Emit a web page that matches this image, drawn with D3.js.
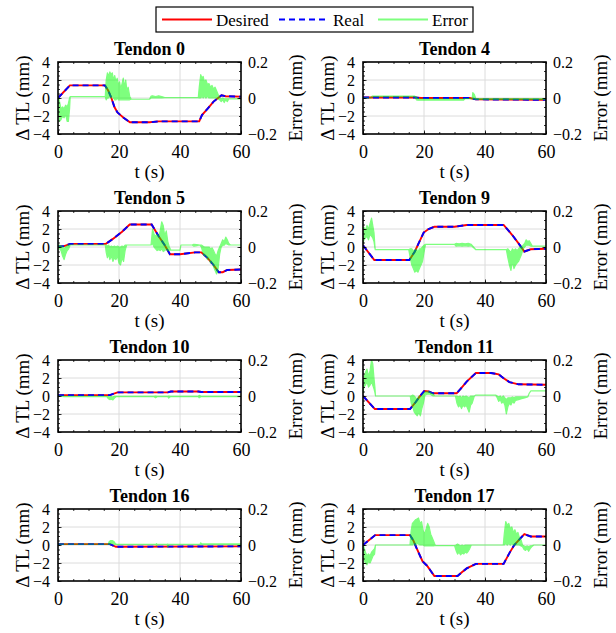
<!DOCTYPE html>
<html>
<head>
<meta charset="utf-8">
<script src="https://cdn.jsdelivr.net/npm/d3@7"></script>
<style>
  body { margin: 0; background: #fff; }
  svg, svg text { font-family: "Liberation Serif", serif; }
</style>
</head>
<body>
<svg id="chart" width="616" height="633" font-family="Liberation Serif"></svg>
<script>
// desired tendon length change [t (s), dTL (mm)]; real tracks it visually exactly
const desired0 = [[0,0],[3.9,1.4],[15.4,1.4],[16.5,0.8],[17.5,0],[18.5,-1.0],[19.5,-1.6],[20.5,-1.9],[21.5,-2.2],[23.6,-2.7],[30,-2.7],[33,-2.6],[46.3,-2.6],[47.2,-1.9],[49,-1.2],[51,-0.4],[53.6,0.3],[55,0.2],[60,0.15]];
const desired4 = [[0,0.05],[17,0.05],[19,0],[35,0],[37,-0.15],[60,-0.2]];
const desired5 = [[0,0.05],[2,0.1],[4,0.35],[15.7,0.35],[18,0.9],[21,1.7],[23.5,2.5],[30.7,2.5],[33,1.2],[35,0.2],[36.7,-0.8],[40,-0.8],[45,-0.6],[47,-0.6],[49,-1.2],[51,-2.0],[52.7,-2.8],[54,-2.8],[55.5,-2.55],[60,-2.5]];
const desired9 = [[0,0.2],[3.7,-1.45],[15.2,-1.45],[17,-0.5],[18.5,0.6],[19.9,1.6],[21.5,2.0],[23.4,2.25],[30,2.25],[34,2.45],[46.1,2.45],[47.5,1.9],[49,1.3],[51,0.4],[52.9,-0.5],[55,-0.25],[60,-0.2]];
const desired10 = [[0,0.1],[17,0.1],[19.5,0.4],[36,0.4],[37,0.5],[46,0.5],[47,0.45],[60,0.45]];
const desired11 = [[0,0],[3.9,-1.45],[15.4,-1.45],[17,-0.8],[18.5,-0.1],[20.1,0.55],[21.5,0.5],[23,0.3],[30.7,0.3],[32,0.8],[34,1.6],[37,2.55],[42,2.55],[44.5,2.4],[46,2.0],[48,1.55],[51,1.3],[60,1.25]];
const desired16 = [[0,0.1],[17,0.1],[19,-0.2],[60,-0.15]];
const desired17 = [[0,0],[4,1.1],[15.4,1.1],[16.5,0.5],[17.5,-0.3],[19.5,-1.8],[21,-2.3],[23.4,-3.45],[31,-3.45],[32.5,-3.0],[34,-2.6],[37,-2.1],[46.1,-2.1],[48,-0.9],[49.6,0],[51.5,0.7],[52.9,1.2],[55,0.95],[60,0.95]];

// tracking error envelope [t (s), min (mm), max (mm)]
const error0 = [[0,0,0],[0.2,-0.06,0],[0.5,-0.13,-0.02],[1,-0.12,-0.06],[1.5,-0.1,-0.05],[2,-0.11,-0.06],[2.5,-0.09,-0.04],[3,-0.13,-0.05],[3.4,-0.13,-0.03],[3.8,-0.06,0],[4,0.008,0.008],[15.5,0.008,0.008],[15.8,-0.01,0.1],[16.2,0,0.14],[16.6,0,0.12],[17,0.01,0.145],[17.4,0,0.13],[17.8,0.01,0.14],[18.2,0,0.1],[18.6,-0.01,0.125],[19,-0.01,0.09],[19.4,0,0.11],[19.8,-0.01,0.07],[20.2,-0.01,0.09],[20.6,-0.01,0.05],[21,-0.01,0.08],[21.4,-0.01,0.11],[21.8,-0.01,0.06],[22.2,-0.01,0.1],[22.6,-0.01,0.04],[23,-0.01,0.06],[23.5,-0.01,0.01],[24,-0.007,-0.007],[30,-0.007,-0.007],[30.5,0,0.01],[31,0.002,0.012],[32,0,0.008],[33,0.002,0.012],[34,0,0.008],[35,0.002,0.002],[46,0.002,0.002],[46.3,0,0.06],[46.8,0,0.13],[47.2,0.01,0.11],[47.6,0,0.12],[48,0.01,0.09],[48.5,0,0.1],[49,0.01,0.075],[49.5,0,0.08],[50,0,0.06],[50.5,0,0.07],[51,0,0.05],[51.5,0,0.06],[52,0,0.04],[52.5,-0.005,0.02],[53,-0.01,0],[53.5,-0.02,-0.005],[54,-0.01,0],[54.5,-0.025,-0.005],[55,-0.01,-0.005],[55.5,-0.02,-0.005],[56,-0.005,-0.005],[60,-0.005,-0.005]];
const error4 = [[0,0,0],[2.5,0,0],[3,0.008,0.01],[17,0.008,0.01],[17.5,-0.01,0.005],[18,-0.012,-0.006],[33,-0.012,-0.006],[33.5,-0.003,-0.003],[35.8,-0.003,-0.003],[36,-0.005,0.03],[36.5,-0.005,0.02],[37,-0.008,-0.004],[60,-0.008,-0.004]];
const error5 = [[0,0,0],[0.5,-0.01,0.01],[1,-0.02,0.005],[1.5,-0.05,0],[2,-0.07,-0.01],[2.5,-0.04,0],[3,-0.02,0.005],[3.5,-0.01,0.01],[4,0.011,0.011],[15.5,0.011,0.011],[15.8,-0.03,0.01],[16.2,-0.06,0.005],[16.6,-0.04,0.01],[17,-0.07,0],[17.5,-0.05,0.005],[18,-0.08,0],[18.5,-0.06,0.005],[19,-0.07,0],[19.5,-0.05,0.005],[20,-0.09,0],[20.5,-0.1,0],[21,-0.06,0.005],[21.5,-0.08,0],[22,-0.02,0.01],[22.5,0.011,0.011],[30.5,0.011,0.011],[31,0.02,0.1],[31.5,0,0.07],[32,-0.01,0.06],[32.5,-0.02,0.07],[33,-0.015,0.05],[33.5,-0.02,0.09],[34,-0.01,0.14],[34.5,-0.025,0.12],[35,-0.02,0.06],[35.5,-0.01,0.09],[36,-0.02,0.03],[36.5,-0.017,0],[37,-0.017,-0.017],[40,-0.017,-0.017],[40.3,0.011,0.011],[44,0.011,0.011],[44.5,0.005,0.015],[45.5,0.008,0.013],[46.5,0.011,0.011],[47,0,0.011],[47.5,-0.03,0.005],[48,-0.05,0],[48.5,-0.04,0],[49,-0.07,0],[49.5,-0.06,0],[50,-0.09,-0.01],[50.5,-0.08,-0.005],[51,-0.11,-0.02],[51.5,-0.13,-0.04],[52,-0.15,-0.05],[52.5,-0.12,-0.02],[53,-0.04,0],[53.5,0,0.02],[54,0.01,0.04],[54.5,0.01,0.03],[55,0.02,0.055],[55.5,0.015,0.04],[56,0.011,0.02],[56.5,0.011,0.011],[60,0.011,0.011]];
const error9 = [[0,0.02,0.05],[0.3,0.04,0.11],[0.8,0.05,0.09],[1.3,0.06,0.12],[1.8,0.04,0.1],[2.3,0.07,0.13],[2.8,0.06,0.16],[3.2,0.05,0.12],[3.6,0.03,0.08],[4,-0.015,-0.015],[15,-0.015,-0.015],[15.5,-0.06,-0.01],[16,-0.1,-0.01],[16.5,-0.12,-0.02],[17,-0.14,-0.02],[17.5,-0.13,-0.01],[18,-0.14,-0.03],[18.5,-0.12,-0.01],[19,-0.1,-0.01],[19.5,-0.08,0],[20,-0.03,0.01],[20.5,0.015,0.015],[30,0.015,0.015],[30.5,0.005,0.02],[31.5,0.008,0.018],[32.5,0.005,0.02],[33.5,0.008,0.018],[34.5,0.005,0.02],[35.5,0.008,0.015],[37,-0.015,-0.015],[47,-0.015,-0.015],[47.5,-0.06,-0.01],[48,-0.1,-0.02],[48.5,-0.13,-0.03],[49,-0.08,-0.01],[49.5,-0.12,-0.02],[50,-0.1,-0.01],[50.5,-0.09,-0.02],[51,-0.08,-0.01],[51.5,-0.06,0],[52,-0.04,0],[52.5,-0.01,0.01],[53,0,0.02],[53.5,0.01,0.04],[54,0.01,0.03],[54.5,0.01,0.035],[55,0.005,0.02],[55.5,0.005,0.005],[60,0.005,0.005]];
const error10 = [[0,0,0],[2,-0.004,-0.002],[16,-0.004,-0.002],[16.5,-0.015,-0.003],[17,-0.02,-0.005],[17.5,-0.018,-0.004],[18,-0.022,-0.006],[18.5,-0.012,-0.002],[19,-0.004,-0.002],[31.5,-0.004,-0.002],[32,-0.01,0],[32.5,-0.004,-0.002],[36,-0.004,-0.002],[36.3,-0.012,0],[36.8,-0.004,-0.002],[46,-0.004,-0.002],[46.3,-0.01,0.004],[46.8,-0.004,-0.002],[60,-0.004,-0.002]];
const error11 = [[0,0.02,0.06],[0.3,0.05,0.1],[0.8,0.06,0.13],[1.3,0.08,0.15],[1.8,0.05,0.11],[2.3,0.06,0.14],[2.8,0.08,0.2],[3.2,0.06,0.18],[3.6,0.04,0.1],[3.9,0.02,0.05],[4.1,0,0],[15.5,0,0],[15.8,-0.04,0],[16.3,-0.06,0.005],[16.8,-0.09,0],[17.3,-0.1,-0.01],[17.8,-0.11,-0.02],[18.3,-0.09,0],[18.8,-0.11,-0.01],[19.3,-0.07,0],[19.8,-0.04,0.01],[20.3,0.005,0.02],[21,0.01,0.025],[22,0.01,0.02],[23,0,0.01],[23.5,0,0],[30.3,0,0],[30.8,-0.04,0],[31.3,-0.06,-0.005],[31.8,-0.05,0],[32.3,-0.07,-0.01],[32.8,-0.05,0],[33.3,-0.06,-0.005],[33.8,-0.05,0],[34.3,-0.07,-0.005],[34.8,-0.09,-0.01],[35.3,-0.05,0],[35.8,-0.04,0],[36.5,0,0],[37,0.005,0.005],[43.5,0.005,0.005],[44,-0.01,0],[44.5,-0.03,-0.005],[45,-0.02,0],[45.5,-0.04,-0.01],[46,-0.03,0],[46.5,-0.05,-0.01],[47,-0.1,-0.02],[47.5,-0.06,-0.01],[48,-0.04,-0.01],[48.5,-0.05,-0.01],[49,-0.03,-0.005],[49.5,-0.04,-0.01],[50,-0.025,-0.005],[51,-0.02,-0.005],[52,-0.015,-0.005],[53,-0.01,-0.005],[54,-0.005,-0.005],[54.5,0.015,0.015],[55,0.028,0.028],[60,0.028,0.028]];
const error16 = [[0,0.005,0.005],[16.5,0.005,0.005],[16.8,0.005,0.02],[17.3,0.008,0.025],[17.8,0.01,0.025],[18.3,0.005,0.02],[18.8,0.003,0.008],[19.3,0.003,0.003],[32,0.003,0.003],[32.3,-0.003,0.008],[32.6,0.003,0.003],[35.8,0.003,0.003],[36,-0.01,0.005],[36.4,0.003,0.003],[46.5,0.003,0.003],[46.8,0.003,0.012],[47.2,0.003,0.006],[60,0.003,0.006]];
const error17 = [[0,0,0],[0.3,-0.08,-0.01],[0.8,-0.1,-0.04],[1.3,-0.11,-0.06],[1.8,-0.09,-0.05],[2.3,-0.1,-0.06],[2.8,-0.08,-0.04],[3.3,-0.06,-0.03],[3.8,-0.05,-0.02],[4.1,0,0],[15.4,0,0],[15.8,0,0.08],[16.2,0,0.12],[16.7,0.01,0.13],[17.2,0,0.14],[17.7,0.01,0.145],[18.2,0.005,0.15],[18.7,0,0.12],[19.2,0,0.13],[19.7,0,0.08],[20.2,-0.005,0.06],[20.7,-0.005,0.09],[21.2,-0.005,0.12],[21.7,-0.005,0.1],[22.2,-0.005,0.06],[22.7,-0.005,0.04],[23.2,-0.005,0.02],[23.7,-0.003,-0.003],[30,-0.003,-0.003],[30.5,-0.03,0],[31,-0.05,0.005],[31.5,-0.04,0],[32,-0.055,-0.005],[32.5,-0.045,0],[33,-0.05,-0.005],[33.5,-0.04,0],[34,-0.045,0],[34.5,-0.035,0],[35,-0.02,0],[35.5,0,0],[46,0,0],[46.3,0,0.06],[46.8,0.01,0.13],[47.3,0,0.11],[47.8,0.01,0.12],[48.3,0,0.09],[48.8,0.01,0.1],[49.3,0,0.07],[49.8,0,0.085],[50.3,0,0.06],[50.8,0,0.07],[51.3,0,0.04],[51.8,-0.005,0.03],[52.3,-0.01,0],[52.8,-0.025,-0.005],[53.3,-0.03,-0.01],[53.8,-0.02,-0.005],[54.3,-0.035,-0.01],[54.8,-0.02,-0.005],[55.3,-0.01,-0.005],[56,0,0],[60,0,0]];

const titles = ["Tendon 0", "Tendon 4", "Tendon 5", "Tendon 9", "Tendon 10", "Tendon 11", "Tendon 16", "Tendon 17"];
const desiredSeries = [desired0, desired4, desired5, desired9, desired10, desired11, desired16, desired17];
const errorSeries = [error0, error4, error5, error9, error10, error11, error16, error17];

const tTicks = [0, 20, 40, 60];
const tlTicks = [-4, -2, 0, 2, 4];
const errTicks = [-0.2, 0, 0.2];
const legendLabels = ["Desired", "Real", "Error"];

const panels = titles.map((title, i) => ({
  title,
  desired: desiredSeries[i],
  real: desiredSeries[i],
  error: errorSeries[i],
}));

const FONT = "Liberation Serif";
const colLeft = [58, 363];
const rowTop = [62, 211, 360, 509];
const plotW = 183;
const plotH = 72;

const x = d3.scaleLinear().domain([0, 60]).range([0, plotW]);
const yTL = d3.scaleLinear().domain([-4, 4]).range([plotH, 0]);
const yErr = d3.scaleLinear().domain([-0.2, 0.2]).range([plotH, 0]);

const tlLine = d3.line().x((d) => x(d[0])).y((d) => yTL(d[1]));
const errArea = d3.area().x((d) => x(d[0])).y0((d) => yErr(d[1])).y1((d) => yErr(d[2]));

const svg = d3.select("#chart");
const defs = svg.append("defs");
defs.append("clipPath").attr("id", "plot-clip")
  .append("rect").attr("width", plotW).attr("height", plotH);

function styleAxis(g, size) {
  g.attr("font-family", FONT).attr("font-size", size);
  g.select(".domain").remove();
  g.selectAll(".tick line").attr("stroke", "#000").attr("stroke-width", 0.8);
  g.selectAll(".tick text").attr("fill", "#000").attr("font-family", FONT);
}

panels.forEach((p, i) => {
  const x0 = colLeft[i % 2];
  const y0 = rowTop[Math.floor(i / 2)];
  const g = svg.append("g").attr("transform", `translate(${x0},${y0})`);

  // grid
  g.append("g").selectAll("line").data(tTicks.slice(1, -1)).join("line")
    .attr("x1", (d) => x(d)).attr("x2", (d) => x(d))
    .attr("y1", 0).attr("y2", plotH)
    .attr("stroke", "#dcdcdc").attr("stroke-width", 1);
  g.append("g").selectAll("line").data(tlTicks.slice(1, -1)).join("line")
    .attr("y1", (d) => yTL(d)).attr("y2", (d) => yTL(d))
    .attr("x1", 0).attr("x2", plotW)
    .attr("stroke", "#dcdcdc").attr("stroke-width", 1);

  const plot = g.append("g").attr("clip-path", "url(#plot-clip)");
  plot.append("path").datum(p.desired)
    .attr("d", tlLine).attr("fill", "none")
    .attr("stroke", "#ff0000").attr("stroke-width", 1.9);
  plot.append("path").datum(p.real)
    .attr("d", tlLine).attr("fill", "none")
    .attr("stroke", "#0000ff").attr("stroke-width", 1.9)
    .attr("stroke-dasharray", "6,4");
  plot.append("path").datum(p.error)
    .attr("d", errArea)
    .attr("fill", "#00ff00").attr("stroke", "#00ff00")
    .attr("stroke-width", 1.2).attr("stroke-linejoin", "round")
    .attr("opacity", 0.5);

  // minor ticks
  g.append("g").call(d3.axisLeft(yTL).tickValues(d3.range(-4, 4.01, 0.5)).tickSize(-2).tickFormat(""))
    .call((a) => styleAxis(a, 0));
  g.append("g").attr("transform", `translate(${plotW},0)`)
    .call(d3.axisRight(yErr).tickValues(d3.range(-0.2, 0.201, 0.05)).tickSize(-2).tickFormat(""))
    .call((a) => styleAxis(a, 0));
  g.append("g").attr("transform", `translate(0,${plotH})`)
    .call(d3.axisBottom(x).tickValues(d3.range(0, 61, 5)).tickSize(-2).tickFormat(""))
    .call((a) => styleAxis(a, 0));
  g.append("g")
    .call(d3.axisTop(x).tickValues(d3.range(0, 61, 5)).tickSize(-2).tickFormat(""))
    .call((a) => styleAxis(a, 0));

  // major ticks with labels
  g.append("g").call(d3.axisLeft(yTL).tickValues(tlTicks).tickSize(-3.5).tickPadding(8))
    .call((a) => styleAxis(a, 16));
  g.append("g").attr("transform", `translate(${plotW},0)`)
    .call(d3.axisRight(yErr).tickValues(errTicks).tickSize(-3.5).tickPadding(7).tickFormat((d) => d === 0 ? "0" : d3.format(".1f")(d)))
    .call((a) => styleAxis(a, 16));
  g.append("g").attr("transform", `translate(0,${plotH})`)
    .call(d3.axisBottom(x).tickValues(tTicks).tickSize(-3.5).tickPadding(11))
    .call((a) => styleAxis(a, 18));

  g.append("rect").attr("width", plotW).attr("height", plotH)
    .attr("fill", "none").attr("stroke", "#000").attr("stroke-width", 1.6);

  g.append("text").attr("x", plotW / 2).attr("y", -7)
    .attr("text-anchor", "middle").attr("font-family", FONT)
    .attr("font-size", 18).attr("font-weight", "bold")
    .text(p.title);
  g.append("text").attr("x", plotW / 2).attr("y", plotH + 44)
    .attr("text-anchor", "middle").attr("font-family", FONT).attr("font-size", 19)
    .text("t (s)");
  g.append("text").attr("transform", `translate(-36,${plotH / 2}) rotate(-90)`)
    .attr("dy", "0.35em").attr("text-anchor", "middle")
    .attr("font-family", FONT).attr("font-size", 19)
    .text("\u0394 TL (mm)");
  g.append("text").attr("transform", `translate(${plotW + 54},${plotH / 2}) rotate(-90)`)
    .attr("dy", "0.35em").attr("text-anchor", "middle")
    .attr("font-family", FONT).attr("font-size", 19)
    .text("Error (mm)");
});

// legend
const legend = svg.append("g").attr("transform", "translate(156,7)");
legend.append("rect").attr("width", 317).attr("height", 25)
  .attr("fill", "#fff").attr("stroke", "#000").attr("stroke-width", 1.2);
const legendStyles = [
  { x: 6, stroke: "#ff0000", dash: null, opacity: 1 },
  { x: 123, stroke: "#0000ff", dash: "6,4", opacity: 1 },
  { x: 222, stroke: "#00ff00", dash: null, opacity: 0.5 },
];
legendLabels.forEach((label, i) => {
  const s = legendStyles[i];
  legend.append("line").attr("x1", s.x).attr("x2", s.x + 50)
    .attr("y1", 12.5).attr("y2", 12.5)
    .attr("stroke", s.stroke).attr("stroke-width", 1.8)
    .attr("stroke-dasharray", s.dash).attr("opacity", s.opacity);
  legend.append("text").attr("x", s.x + 54).attr("y", 19)
    .attr("font-family", FONT).attr("font-size", 17).text(label);
});
</script>
</body>
</html>
